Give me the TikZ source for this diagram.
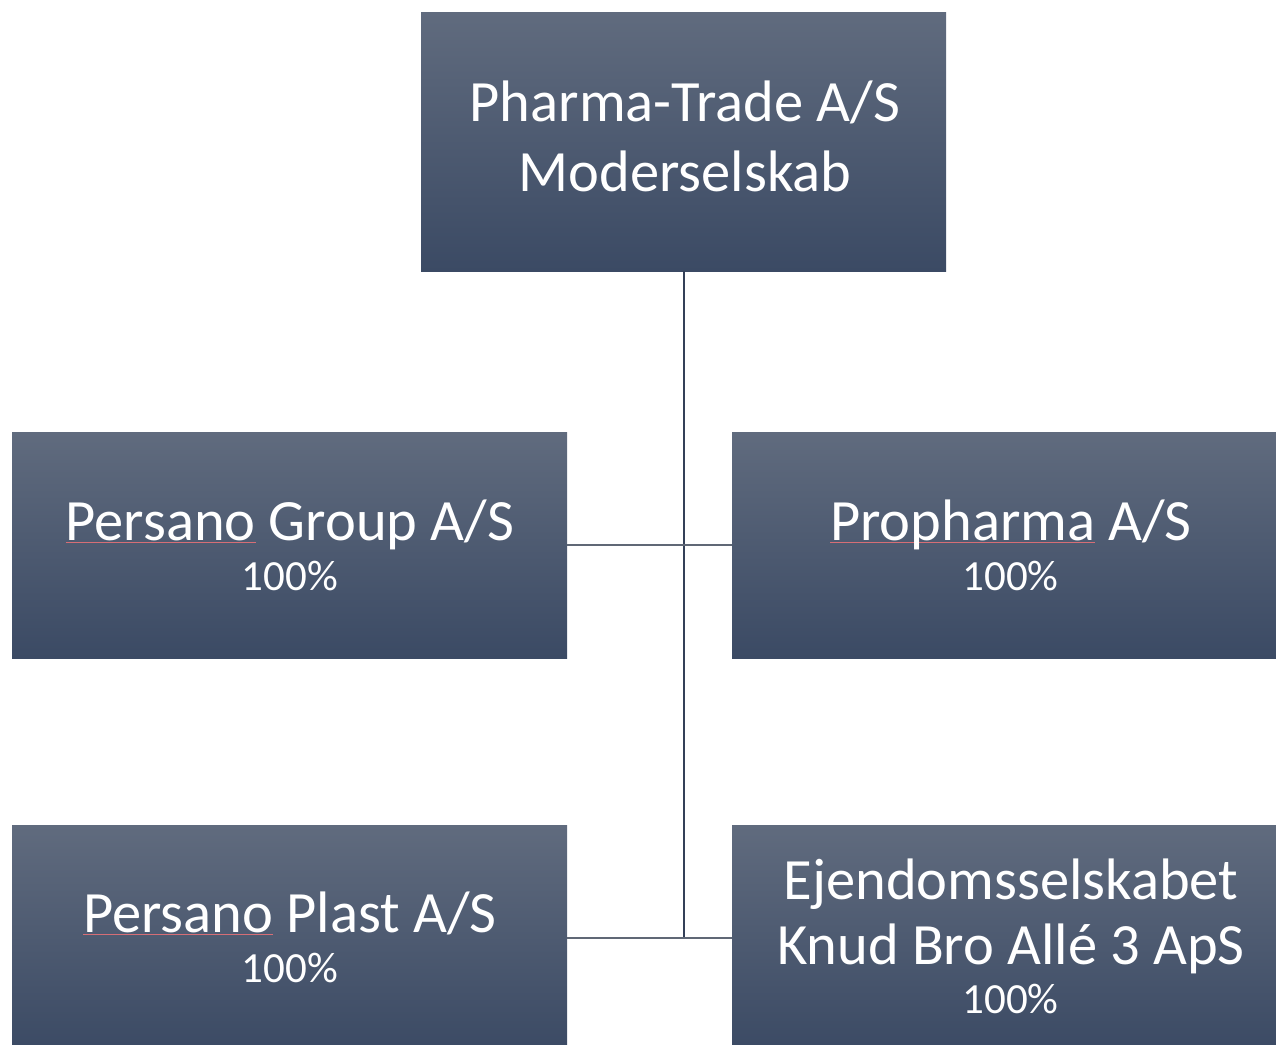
\documentclass[tikz,border=0pt]{standalone}
\usepackage{fontspec}
\setmainfont{Carlito}
\definecolor{boxtop}{RGB}{96,107,126}
\definecolor{boxbot}{RGB}{59,74,100}
\definecolor{vline}{RGB}{52,64,88}
\definecolor{hline}{RGB}{96,104,118}
\definecolor{spell}{RGB}{214,110,118}
\newcommand\spellmark[1]{\setbox0\hbox{#1}\rlap{\textcolor{spell}{\rule[-2.5pt]{\wd0}{1pt}}}\box0\relax}
\tikzset{
  orgbox/.style={rectangle, draw=none, inner sep=0pt, top color=boxtop, bottom color=boxbot,
    minimum width=555pt, minimum height=226pt},
  bigtxt/.style={anchor=base, text=white, inner sep=0pt, font=\fontsize{58.5}{70}\selectfont},
  smalltxt/.style={anchor=base, text=white, inner sep=0pt, font=\fontsize{43}{52}\selectfont},
  link/.style={line width=2pt, color=vline}
}
\begin{document}
\begin{tikzpicture}[x=1pt,y=-1pt]
\useasboundingbox (0,0) rectangle (1276,1044);
% boxes
\node[orgbox, minimum width=525pt, minimum height=259pt] (top) at (683.5,141.5) {};
\node[orgbox] (pg) at (289.5,545) {};
\node[orgbox] (pp) at (1009.5,545) {};
\node[orgbox] (pl) at (289.5,938) {};
\node[orgbox] (ej) at (1009.5,938) {};
% connectors
\coordinate (joint) at (top.south |- pl.east);
\draw[link] (top.south) -- (joint);
\draw[link, color=hline, line width=1.6pt] (pg.east) -- (pp.west);
\draw[link, color=hline, line width=1.6pt] (pl.east) -- (ej.west);
% texts
\node[bigtxt] (topa) at (685,121) {Pharma-Trade A/S};
\node[bigtxt] (topb) at (685,191) {Moderselskab};
\node[bigtxt] (pga) at (290,540) {\spellmark{Persano} Group A/S};
\node[smalltxt] (pgb) at (290,590) {100\%};
\node[bigtxt] (ppa) at (1011,540) {\spellmark{Propharma} A/S};
\node[smalltxt] (ppb) at (1010.5,590) {100\%};
\node[bigtxt] (pla) at (290,932) {\spellmark{Persano} Plast A/S};
\node[smalltxt] (plb) at (290,982) {100\%};
\node[bigtxt] (eja) at (1011,899) {Ejendomsselskabet};
\node[bigtxt] (ejb) at (1011,964) {Knud Bro Allé 3 ApS};
\node[smalltxt] (ejc) at (1010.5,1013) {100\%};
\end{tikzpicture}
\end{document}
